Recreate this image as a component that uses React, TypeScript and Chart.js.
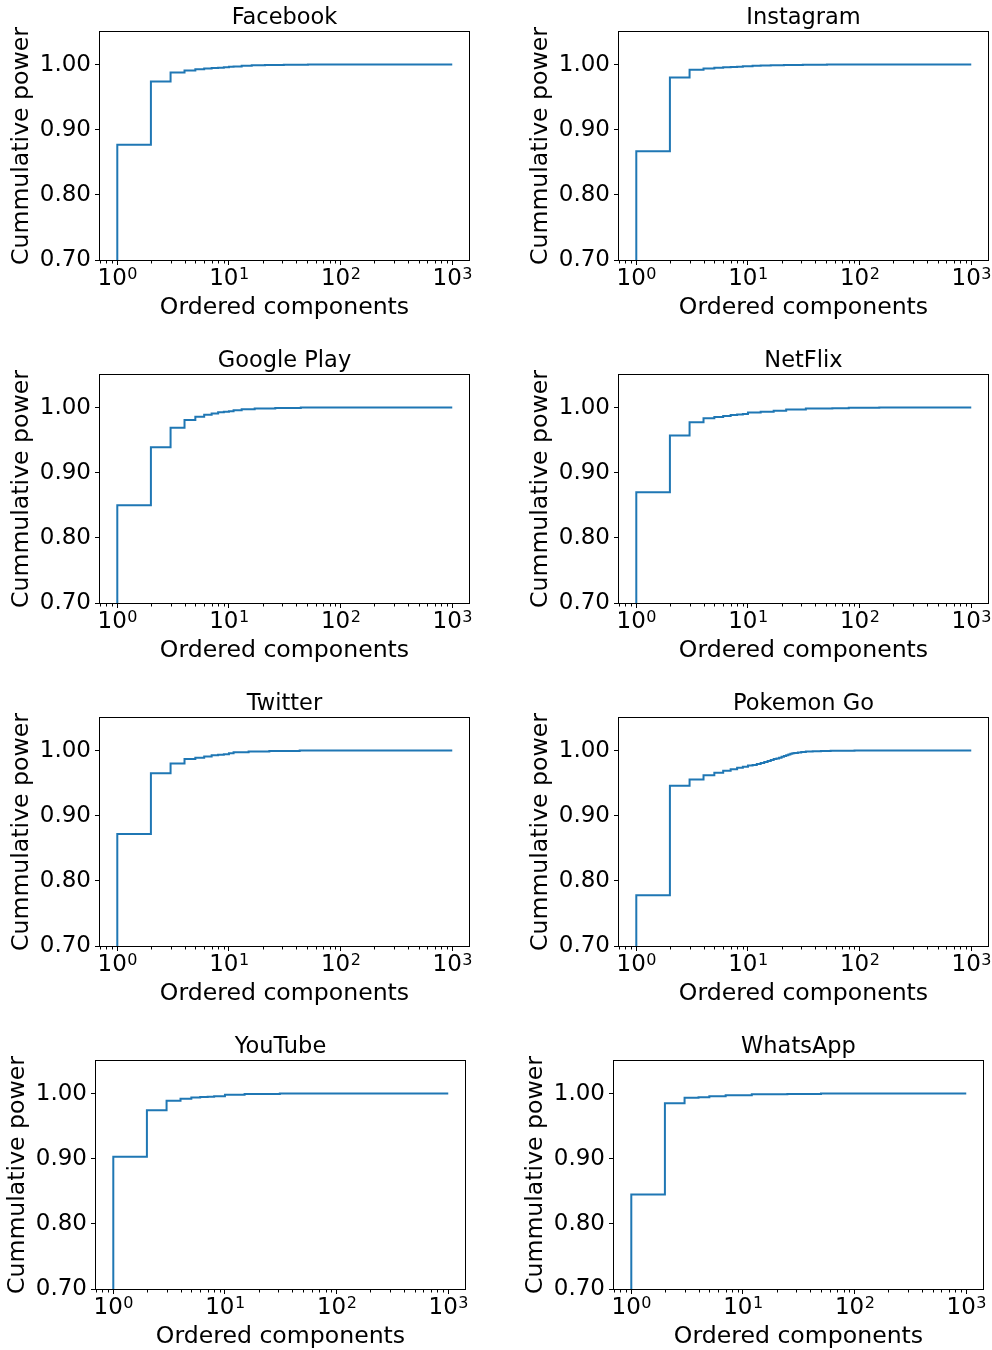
import React, { useEffect, useRef } from 'react';
import { Chart, registerables } from 'chart.js';

Chart.register(...registerables);

// ---------- data ----------
const Y_TICKS = [0.7, 0.8, 0.9, 1.0];
const X_TICKS = [1, 10, 100, 1000];
const X_TICK_BASE = '10';
const X_TICK_EXPONENTS = ['0', '1', '2', '3'];
const X_LABEL = 'Ordered components';
const Y_LABEL = 'Cummulative power';

// first value of each power series is the start of the curve, below the visible range
const facebookComponents = [1, 2, 3, 4, 5, 6, 7, 8, 9, 10, 11, 13, 16, 21, 31, 51, 101, 1000];
const facebookPower = [0, 0.877, 0.974, 0.988, 0.991, 0.993, 0.994, 0.9947, 0.9953, 0.996, 0.9965, 0.997, 0.998, 0.9988, 0.9995, 0.9999, 1.0, 1.0];

const instagramComponents = [1, 2, 3, 4, 5, 6, 7, 8, 9, 11, 13, 16, 21, 31, 51, 101, 1000];
const instagramPower = [0, 0.867, 0.98, 0.992, 0.994, 0.995, 0.9958, 0.9963, 0.9967, 0.9973, 0.998, 0.9985, 0.999, 0.9995, 0.9999, 1.0, 1.0];

const googlePlayComponents = [1, 2, 3, 4, 5, 6, 7, 8, 9, 10, 11, 13, 17, 26, 44, 101, 1000];
const googlePlayPower = [0, 0.85, 0.939, 0.969, 0.981, 0.986, 0.989, 0.991, 0.993, 0.9935, 0.9945, 0.996, 0.9975, 0.9985, 0.9995, 1.0, 1.0];

const netflixComponents = [1, 2, 3, 4, 5, 6, 7, 8, 9, 10, 13, 17, 22, 33, 57, 80, 150, 300, 1000];
const netflixPower = [0, 0.87, 0.957, 0.9775, 0.9837, 0.9857, 0.987, 0.9885, 0.9893, 0.99, 0.9923, 0.9937, 0.995, 0.997, 0.9985, 0.999, 0.9997, 1.0, 1.0];

const twitterComponents = [1, 2, 3, 4, 5, 6, 7, 8, 9, 10, 11, 15, 23, 43, 100, 1000];
const twitterPower = [0, 0.872, 0.965, 0.98, 0.987, 0.989, 0.991, 0.993, 0.9937, 0.9944, 0.996, 0.9975, 0.9985, 0.9995, 1.0, 1.0];

const pokemonComponents = [1, 2, 3, 4, 5, 6, 7, 8, 9, 10, 11, 12, 13, 14, 15, 16, 17, 18, 19, 20, 21, 22, 23, 24, 25, 26, 28, 30, 33, 38, 45, 55, 70, 90, 1000];
const pokemonPower = [0, 0.778, 0.946, 0.9556, 0.962, 0.9658, 0.969, 0.9714, 0.9735, 0.975, 0.977, 0.978, 0.9795, 0.981, 0.9825, 0.984, 0.9855, 0.987, 0.988, 0.989, 0.9905, 0.9918, 0.993, 0.994, 0.995, 0.9958, 0.9964, 0.9972, 0.9978, 0.9984, 0.999, 0.9994, 0.9997, 0.9999, 1.0];

const youtubeComponents = [1, 2, 3, 4, 5, 6, 7, 8, 10, 15, 31, 60, 1000];
const youtubePower = [0, 0.903, 0.9745, 0.989, 0.992, 0.994, 0.9947, 0.9953, 0.996, 0.998, 0.9995, 1.0, 1.0];

const whatsappComponents = [1, 2, 3, 4, 5, 7, 12, 25, 50, 100, 1000];
const whatsappPower = [0, 0.845, 0.985, 0.9934, 0.9944, 0.996, 0.9975, 0.999, 0.9995, 1.0, 1.0];

// ---------- layout / style ----------
const FONT = "'DejaVu Sans', sans-serif";
const LINE_COLOR = '#1f77b4';
const X_MIN = Math.pow(10, -0.15);
const X_MAX = Math.pow(10, 3.15);
const Y_MIN = 0.7;
const Y_MAX = 1.05;

const TICK_SIZE = 23;
const EXP_SIZE = 16;
const LABEL_SIZE = 23.6;
const TITLE_SIZE = 22.5;

const PLOT_W = 369;
const PLOT_H = 228;
const PAD_L = 96;
const PAD_T = 32;
const PAD_B = 70;
const PAD_R = 26;
const CANVAS_W = PAD_L + PLOT_W + PAD_R;
const CANVAS_H = PAD_T + PLOT_H + PAD_B;

const PANELS = [
  { title: 'Facebook', xs: facebookComponents, ys: facebookPower, left: 100, top: 32 },
  { title: 'Instagram', xs: instagramComponents, ys: instagramPower, left: 619, top: 32 },
  { title: 'Google Play', xs: googlePlayComponents, ys: googlePlayPower, left: 100, top: 375 },
  { title: 'NetFlix', xs: netflixComponents, ys: netflixPower, left: 619, top: 375 },
  { title: 'Twitter', xs: twitterComponents, ys: twitterPower, left: 100, top: 718 },
  { title: 'Pokemon Go', xs: pokemonComponents, ys: pokemonPower, left: 619, top: 718 },
  { title: 'YouTube', xs: youtubeComponents, ys: youtubePower, left: 96, top: 1061 },
  { title: 'WhatsApp', xs: whatsappComponents, ys: whatsappPower, left: 614, top: 1061 },
];

const framePlugin = {
  id: 'frameAndMinor',
  afterDatasetsDraw(chart: any) {
    const { ctx, chartArea: a, scales } = chart;
    const xs = scales.x;
    ctx.save();
    ctx.strokeStyle = '#000';
    ctx.lineWidth = 1;
    const l = Math.round(a.left) - 0.5;
    const t = Math.round(a.top) - 0.5;
    const r = Math.round(a.right) + 0.5;
    const b = Math.round(a.bottom) + 0.5;
    ctx.strokeRect(l, t, r - l, b - t);
    ctx.beginPath();
    for (const d of [0.1, 1, 10, 100, 1000]) {
      for (let m = 2; m <= 9; m++) {
        const v = m * d;
        if (v < xs.min || v > xs.max) continue;
        const px = Math.round(xs.getPixelForValue(v)) + 0.5;
        ctx.moveTo(px, b);
        ctx.lineTo(px, b + 3);
      }
    }
    ctx.stroke();

    // power-of-ten tick labels: "10" with a raised exponent
    ctx.fillStyle = '#000';
    ctx.textAlign = 'left';
    ctx.textBaseline = 'alphabetic';
    X_TICKS.forEach((v, i) => {
      const px = xs.getPixelForValue(v);
      ctx.font = `${TICK_SIZE}px ${FONT}`;
      const wb = ctx.measureText(X_TICK_BASE).width;
      ctx.font = `${EXP_SIZE}px ${FONT}`;
      const we = ctx.measureText(X_TICK_EXPONENTS[i]).width;
      const x0 = px - (wb + we) / 2;
      ctx.font = `${TICK_SIZE}px ${FONT}`;
      ctx.fillText(X_TICK_BASE, x0, a.bottom + 25);
      ctx.font = `${EXP_SIZE}px ${FONT}`;
      ctx.fillText(X_TICK_EXPONENTS[i], x0 + wb + 0.5, a.bottom + 18.5);
    });
    ctx.restore();
  },
};

function Panel({ p }: { p: typeof PANELS[number] }) {
  const ref = useRef<HTMLCanvasElement>(null);
  useEffect(() => {
    if (!ref.current) return;
    const tickFont = { family: FONT, size: TICK_SIZE, lineHeight: 1.0 };
    const labelFont = { family: FONT, size: LABEL_SIZE, lineHeight: 1.2 };
    const chart = new Chart(ref.current, {
      type: 'line',
      data: {
        datasets: [
          {
            data: p.xs.map((x, i) => ({ x, y: p.ys[i] })),
            borderColor: LINE_COLOR,
            borderWidth: 2,
            pointRadius: 0,
            fill: false,
            stepped: 'after',
            tension: 0,
          },
        ],
      },
      options: {
        animation: false,
        responsive: false,
        events: [],
        layout: { padding: { left: 0, right: PAD_R, top: 0, bottom: 0 } },
        plugins: {
          legend: { display: false },
          tooltip: { enabled: false },
          title: {
            display: true,
            text: p.title,
            fullSize: false,
            color: '#000',
            font: { family: FONT, size: TITLE_SIZE, weight: 'normal', lineHeight: 1.2 },
            padding: { top: 5, bottom: PAD_T - TITLE_SIZE * 1.2 - 5 },
          },
        },
        scales: {
          x: {
            type: 'logarithmic',
            min: X_MIN,
            max: X_MAX,
            afterFit: (s: any) => {
              s.height = PAD_B;
            },
            afterBuildTicks: (s: any) => {
              s.ticks = X_TICKS.map((v) => ({ value: v, major: true }));
            },
            ticks: {
              display: false,
              autoSkip: false,
              maxRotation: 0,
              minRotation: 0,
              font: tickFont,
            },
            grid: { drawOnChartArea: false, drawTicks: true, tickLength: 5, tickColor: '#000', color: '#000', lineWidth: 1 },
            border: { display: false },
            title: { display: true, text: X_LABEL, color: '#000', font: labelFont, padding: { top: 0, bottom: 7.5 } },
          },
          y: {
            type: 'linear',
            min: Y_MIN,
            max: Y_MAX,
            afterFit: (s: any) => {
              s.width = PAD_L;
            },
            afterBuildTicks: (s: any) => {
              s.ticks = Y_TICKS.map((v) => ({ value: v }));
            },
            ticks: {
              padding: 4,
              color: '#000',
              font: tickFont,
              callback: (v: any) => Number(v).toFixed(2),
            },
            grid: { drawOnChartArea: false, drawTicks: true, tickLength: 5, tickColor: '#000', color: '#000', lineWidth: 1 },
            border: { display: false },
            title: { display: true, text: Y_LABEL, color: '#000', font: labelFont, padding: { top: 3.5, bottom: 0 } },
          },
        },
      },
      plugins: [framePlugin],
    } as any);
    return () => chart.destroy();
  }, [p]);
  return (
    <canvas
      ref={ref}
      width={CANVAS_W}
      height={CANVAS_H}
      style={{ position: 'absolute', left: p.left - PAD_L, top: p.top - PAD_T, width: CANVAS_W, height: CANVAS_H }}
    />
  );
}

export default function App() {
  return (
    <div style={{ position: 'absolute', left: 0, top: 0, width: 992, height: 1350, overflow: 'hidden', background: '#fff' }}>
      {PANELS.map((p) => (
        <Panel key={p.title} p={p} />
      ))}
    </div>
  );
}
